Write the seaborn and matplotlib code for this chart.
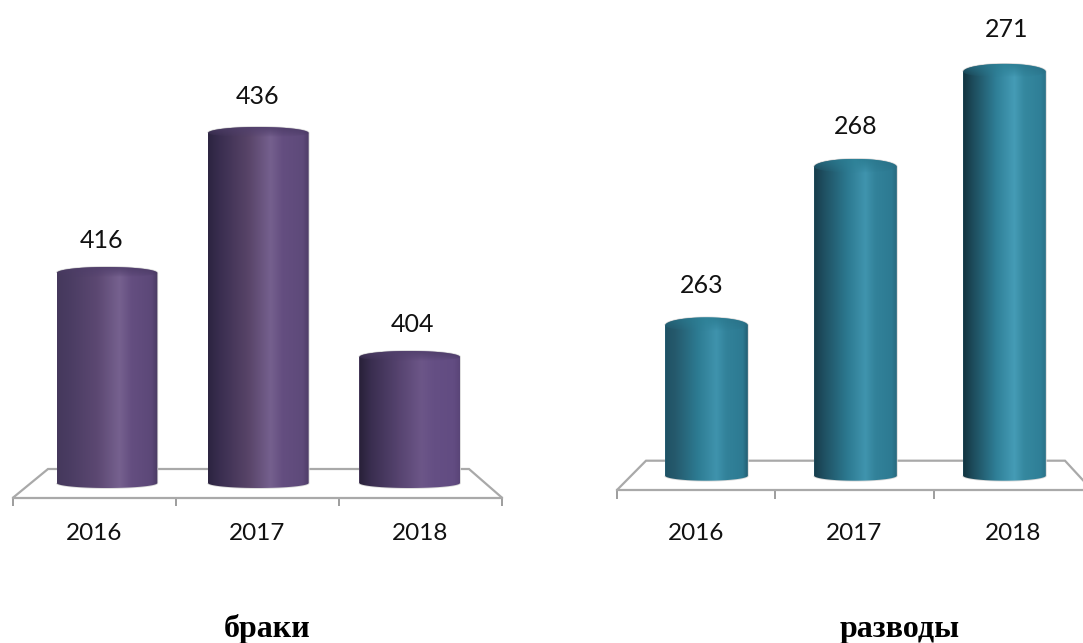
import numpy as np
import pandas as pd
import seaborn as sns
import matplotlib
matplotlib.use("Agg")
import matplotlib.pyplot as plt
from matplotlib.colors import LinearSegmentedColormap
from matplotlib.path import Path
from matplotlib.patches import PathPatch

# ---- data ----
years = ["2016", "2017", "2018"]
marriages = [416, 436, 404]
divorces = [263, 268, 271]
title_left = "браки"
title_right = "разводы"

W, H = 1083, 643
sns.set_theme(style="white")
plt.rcParams["font.family"] = ["Lato", "DejaVu Sans"]
fig = plt.figure(figsize=(W / 100, H / 100), dpi=100, facecolor="white")


def px_axes(x0, x1, y_top, y_bottom, **kw):
    return fig.add_axes([x0 / W, 1 - y_bottom / H, (x1 - x0) / W, (y_bottom - y_top) / H], **kw)


def floor(x0, x1, y_back, y_front, back_l, back_r, tick_len, pad):
    ax = px_axes(x0, x1, y_back, y_front, zorder=0)
    ax.patch.set_alpha(0)
    for s in ["top", "left", "right"]:
        ax.spines[s].set_visible(False)
    ax.spines["bottom"].set_color("#a9a9a9")
    ax.spines["bottom"].set_linewidth(1.6)
    ax.set_xlim(-0.5, 2.5)
    ax.set_ylim(0, 1)
    ax.set_yticks([])
    ax.set_xticks([-0.5, 0.5, 1.5, 2.5])
    ax.set_xticklabels([])
    ax.tick_params(axis="x", which="major", bottom=True, length=tick_len * 0.72, width=1.2, color="#8c8c8c")
    ax.set_xticks([0, 1, 2], minor=True)
    ax.set_xticklabels(years, minor=True, fontsize=17.5, color="#111111")
    ax.tick_params(axis="x", which="minor", bottom=False, pad=pad)
    w = x1 - x0
    ax.plot([0, back_l / w, back_r / w, 1], [0, 1, 1, 0], color="#a9a9a9", lw=1.6,
            transform=ax.transAxes, clip_on=False, solid_joinstyle="miter")


def cylinders(values, x0, x1, y_top, y_bottom, base, per_px, cap_up, cap_down, stops_list, cap_stops, dxs, gap):
    ax = px_axes(x0, x1, y_top, y_bottom, zorder=2)
    ax.patch.set_alpha(0)
    df = pd.DataFrame({"year": years, "value": values})
    width = stops_list[0][0]
    sns.barplot(data=df, x="year", y="value", ax=ax, width=width, color=stops_list[0][1][3],
                saturation=1, linewidth=0, legend=False)
    top = base + (y_bottom - y_top) / per_px
    ax.set_xlim(-0.5, 2.5)
    ax.set_ylim(base, top)
    ax.axis("off")
    up, down = cap_up / per_px, cap_down / per_px
    t = np.linspace(0, np.pi, 60)
    cap_cmap = LinearSegmentedColormap.from_list("cap", cap_stops)
    for p, v, (_, stops), dx, g in zip(ax.patches, values, stops_list, dxs, gap):
        xl, bw = p.get_x(), p.get_width()
        xm, r = xl + bw / 2, bw / 2
        xs = np.r_[xm - r * np.cos(t), xm + r * np.cos(t)]
        ys = np.r_[base - down * np.sin(t), v + up * np.sin(t)]
        body = Path(np.column_stack([xs, ys]))
        ax.add_patch(PathPatch(body, fc="none", ec="#d8d8d8", lw=1.2, clip_on=False, zorder=2))
        cmap = LinearSegmentedColormap.from_list("cyl", list(zip(stops_pos, stops)))
        im = ax.imshow(np.linspace(0, 1, 256)[None, :], extent=(xl, xl + bw, base - down, v + up),
                       cmap=cmap, aspect="auto", zorder=3, interpolation="bilinear")
        im.set_clip_box(fig.bbox)
        im.set_clip_path(body, ax.transData)
        # top cap: opaque along the rim, melting into the body towards the front
        tt = np.linspace(0, np.pi, 60)
        cap = Path(np.column_stack([np.r_[xm + r * np.cos(tt), xm - r * np.cos(tt)],
                                    np.r_[v + up * np.sin(tt), v - up * 0.7 * np.sin(tt)]]))
        rgba = cap_cmap(np.linspace(0, 1, 128))[None, :, :].repeat(32, axis=0)
        rgba[:, :, 3] = np.linspace(1, 0, 32)[:, None] ** 0.8
        cim = ax.imshow(rgba, extent=(xl, xl + bw, v - up * 0.7, v + up),
                        aspect="auto", zorder=4, interpolation="bilinear")
        cim.set_clip_box(fig.bbox)
        cim.set_clip_path(cap, ax.transData)
        ax.annotate(str(v), (xm, v), xytext=(dx * 0.72, g * 0.72), textcoords="offset points",
                    ha="center", va="center", fontsize=18, color="#111111", zorder=5)
    ax.set_xlim(-0.5, 2.5)
    ax.set_ylim(base, top)
    return ax


stops_pos = [0, 0.12, 0.40, 0.62, 0.74, 0.94, 1]
purple = [
    (0.665, ["#45385c", "#4a3c62", "#5c4872", "#76618f", "#644e80", "#5c4878", "#4a3a62"]),
    (0.665, ["#2c2440", "#3a2e50", "#584468", "#75608e", "#644e80", "#5e4a7a", "#4e3c68"]),
    (0.665, ["#282038", "#3a2e50", "#574470", "#6c5688", "#654f84", "#624c82", "#5a4578"]),
]
teal = [
    (0.555, ["#1f5264", "#25596c", "#2d7c93", "#3f93ad", "#32829a", "#2d7a92", "#235e72"]),
    (0.555, ["#173c4a", "#1f5062", "#2c7990", "#4094ae", "#32829a", "#2d7a92", "#28697e"]),
    (0.555, ["#12333f", "#1d4c5c", "#2f7f97", "#459cb6", "#35889f", "#2f7f97", "#2b7288"]),
]
purple_cap = [(0, "#4a3b62"), (0.5, "#54426f"), (1, "#4a3a64")]
teal_cap = [(0, "#25677c"), (0.5, "#2f8399"), (1, "#296f85")]

floor(13, 502, 469, 497.7, 35, 456, 8, 14)
floor(617, 1092, 460.7, 490, 29, 448, 9, 20)

cylinders(marriages, 31.35, 485.35, 0, 483, 386.0, 7.0, 6, 5, purple, purple_cap,
          [-5, -1, 3], [33, 36, 33])
cylinders(divorces, 632, 1079, 0, 475.7, 258.26, 31.7, 8, 5, teal, teal_cap,
          [-5, 0, 2], [40, 40, 42])

fig.text(267 / W, 1 - 637 / H, title_left, ha="center", va="baseline", fontsize=23,
         fontweight="bold", family="Liberation Serif", color="#000000")
fig.text(900 / W, 1 - 637 / H, title_right, ha="center", va="baseline", fontsize=23,
         fontweight="bold", family="Liberation Serif", color="#000000")

fig.savefig("out.png", dpi=100, facecolor="white")
